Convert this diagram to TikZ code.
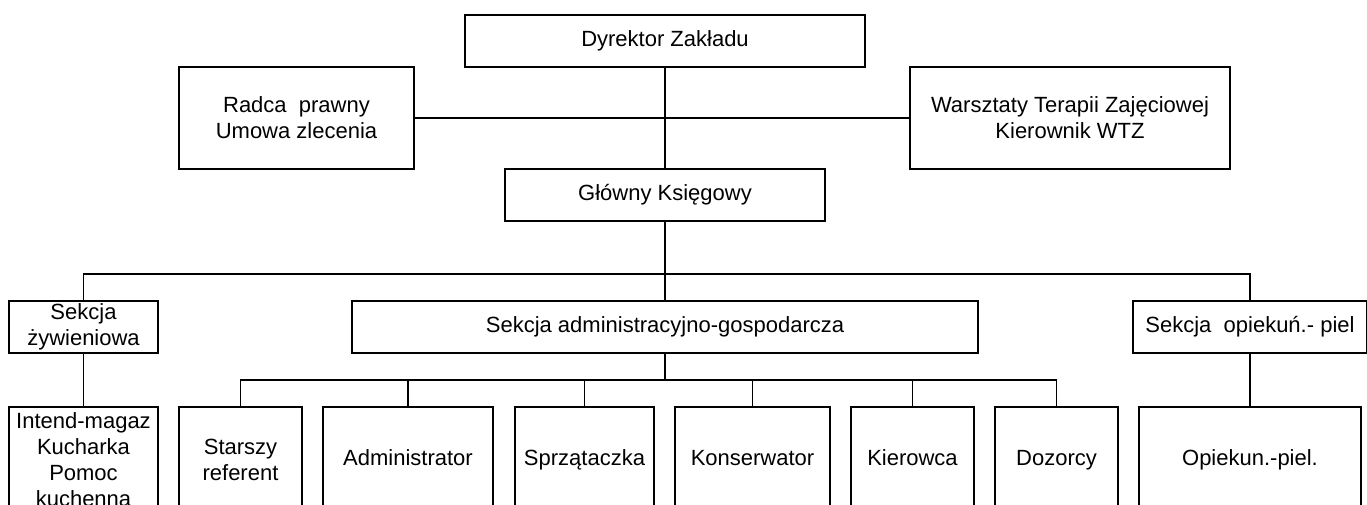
\documentclass[tikz,border=0pt]{standalone}
\usepackage{fontspec}
\setmainfont{Liberation Sans}
\begin{document}
\begin{tikzpicture}[x=0.5pt,y=-0.5pt,
    box/.style={draw=black,line width=0.85pt,inner sep=0pt,align=center,font=\fontsize{11}{13}\selectfont},
    single/.style={box,text height=8pt,text depth=2.5pt},
    link/.style={draw=black,line width=0.85pt}]
    \useasboundingbox (0,0) rectangle (1367,504);
    \clip (0,0) rectangle (1367,504);

    \node[single,minimum width=200pt,minimum height=26pt] (dyr) at (665,41) {Dyrektor Zakładu};
    \node[box,minimum width=117.5pt,minimum height=51pt] (radca) at (296.5,118) {Radca\ \ prawny\\Umowa zlecenia};
    \node[box,minimum width=160pt,minimum height=51pt] (wtz) at (1070,118) {Warsztaty Terapii Zajęciowej\\Kierownik WTZ};
    \node[single,minimum width=160pt,minimum height=26pt] (glowny) at (665,195) {Główny Księgowy};

    \node[box,minimum width=74.5pt,minimum height=26pt] (sekzyw) at (83.5,327) {Sekcja\\żywieniowa};
    \node[single,minimum width=313pt,minimum height=26pt] (sekadm) at (665,327) {Sekcja administracyjno-gospodarcza};
    \node[single,minimum width=117pt,minimum height=26pt] (sekop) at (1250,327) {Sekcja\ \ opiekuń.- piel};

    \node[box,minimum width=74.5pt,minimum height=53pt] (intend) at (83.5,460) {Intend-magaz\\Kucharka\\Pomoc\\kuchenna};
    \node[box,minimum width=61.5pt,minimum height=53pt] (starszy) at (240.5,460) {Starszy\\referent};
    \node[single,minimum width=85pt,minimum height=53pt] (admin) at (408,460) {Administrator};
    \node[single,minimum width=69.5pt,minimum height=53pt] (sprz) at (584.5,460) {Sprzątaczka};
    \node[single,minimum width=77.5pt,minimum height=53pt] (kons) at (752.5,460) {Konserwator};
    \node[single,minimum width=61.5pt,minimum height=53pt] (kier) at (912.5,460) {Kierowca};
    \node[single,minimum width=61.5pt,minimum height=53pt] (doz) at (1056.5,460) {Dozorcy};
    \node[single,minimum width=111pt,minimum height=53pt] (opiek) at (1250,460) {Opiekun.-piel.};

    \draw[link] (dyr.south) -- (glowny.north);
    \draw[link] (radca.east) -- (wtz.west);
    \draw[link] (glowny.south) -- (sekadm.north);

    \coordinate (bus) at (665,274);
    \draw[link] (sekzyw.north) |- (bus) -| (sekop.north);

    \coordinate (sub) at (665,380);
    \draw[link] (sekadm.south) -- (sub);
    \draw[link] (starszy.north) |- (sub) -| (doz.north);
    \foreach \n in {admin,sprz,kons,kier}
        \draw[link] (\n.north) -- (\n.north |- sub);

    \draw[link] (sekzyw.south) -- (intend.north);
    \draw[link] (sekop.south) -- (opiek.north);
\end{tikzpicture}
\end{document}
